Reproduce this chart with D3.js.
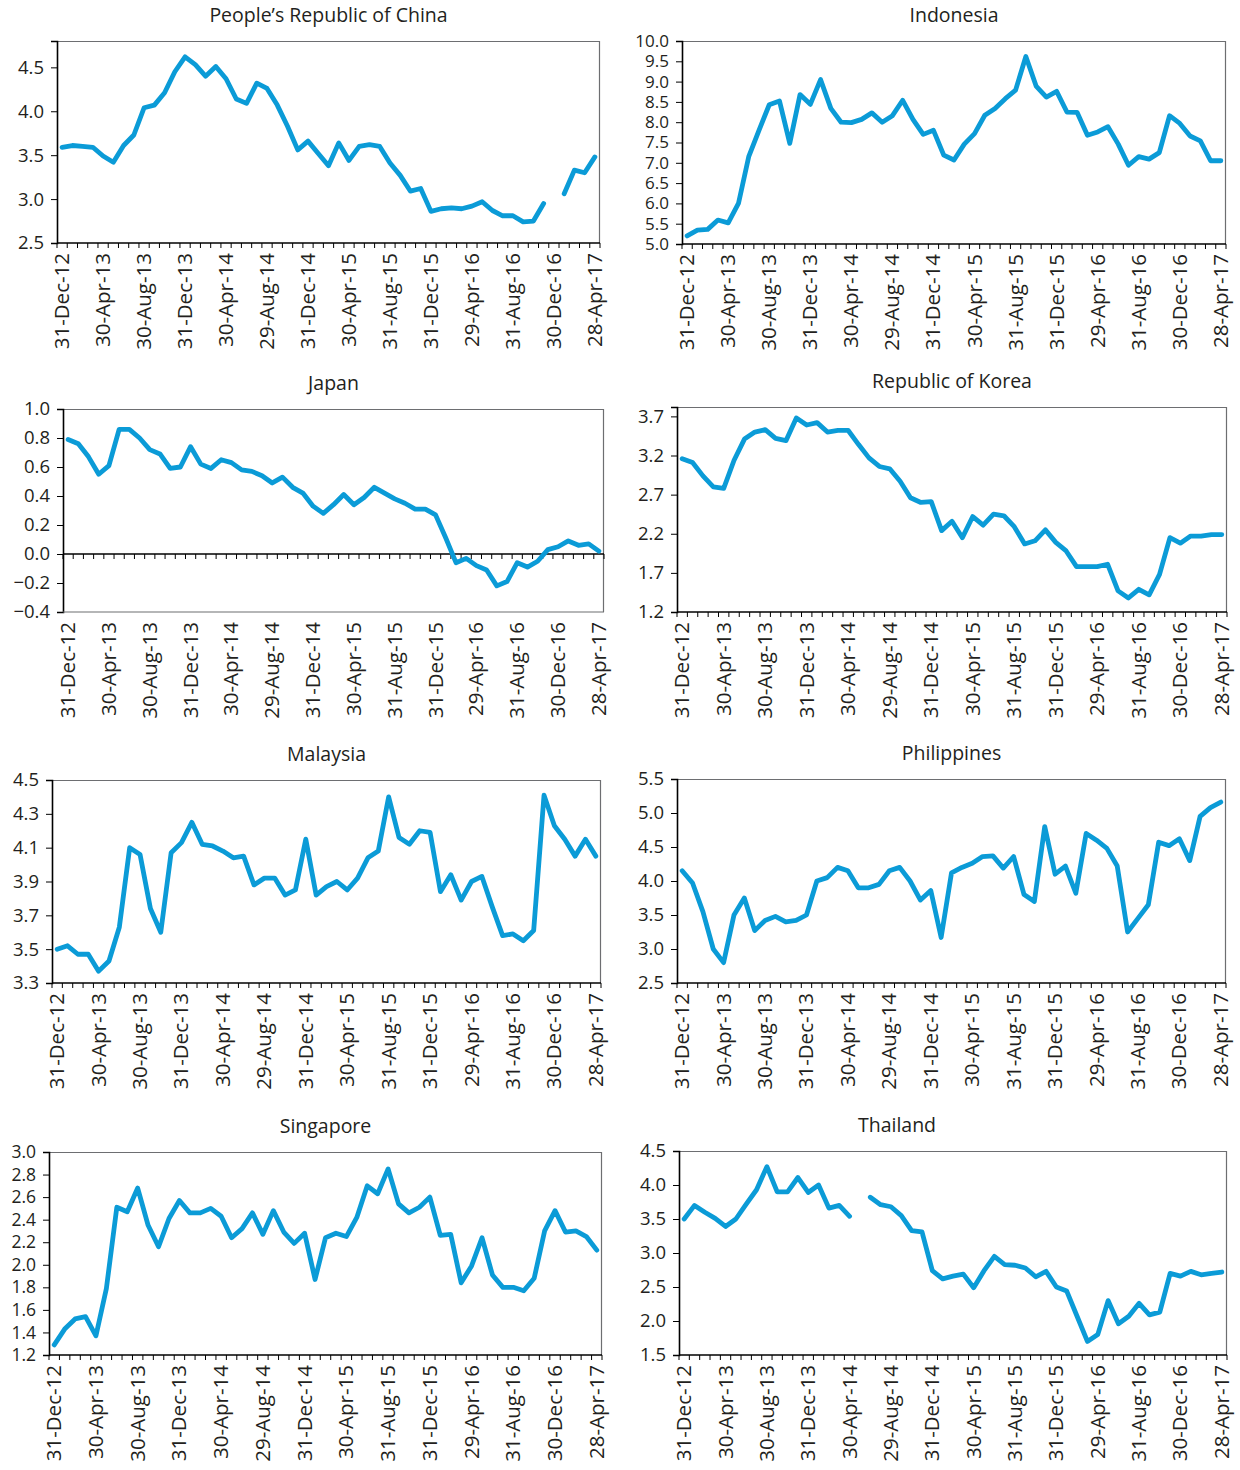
<!DOCTYPE html>
<html>
<head>
<meta charset="utf-8">
<script src="https://cdn.jsdelivr.net/npm/d3@7"></script>
<style>
  body { margin: 0; background: #fff; }
  text { font-family: "Open Sans", "Noto Sans", sans-serif; fill: #231f20; }
</style>
</head>
<body>
<svg width="1240" height="1470"></svg>
<script>
// tick labels on the category axis (every 4th month)
var dates = ["31-Dec-12", "30-Apr-13", "30-Aug-13", "31-Dec-13", "30-Apr-14", "29-Aug-14", "31-Dec-14",
  "30-Apr-15", "31-Aug-15", "31-Dec-15", "29-Apr-16", "31-Aug-16", "30-Dec-16", "28-Apr-17"];

// monthly series, Dec-2012 .. Apr-2017
var china = [3.59, 3.61, 3.60, 3.59, 3.49, 3.42, 3.61, 3.73, 4.04, 4.07, 4.21, 4.45, 4.62, 4.53, 4.40, 4.51, 4.37, 4.14,
  4.09, 4.32, 4.26, 4.07, 3.83, 3.56, 3.66, 3.52, 3.38, 3.64, 3.44, 3.60, 3.62, 3.60, 3.41, 3.27, 3.09, 3.12, 2.86,
  2.89, 2.90, 2.89, 2.92, 2.97, 2.87, 2.81, 2.81, 2.74, 2.75, 2.95, null, 3.06, 3.33, 3.30, 3.48];
var indonesia = [5.20, 5.34, 5.36, 5.59, 5.52, 6.00, 7.15, 7.80, 8.43, 8.52, 7.48, 8.68, 8.44, 9.05, 8.34, 8.00, 7.99,
  8.07, 8.23, 8.00, 8.16, 8.54, 8.07, 7.70, 7.80, 7.19, 7.07, 7.46, 7.72, 8.17, 8.34, 8.58, 8.79, 9.62, 8.89, 8.62,
  8.76, 8.25, 8.24, 7.68, 7.76, 7.89, 7.46, 6.94, 7.15, 7.09, 7.25, 8.16, 7.97, 7.66, 7.54, 7.05, 7.05];
var japan = [0.79, 0.76, 0.67, 0.55, 0.61, 0.86, 0.86, 0.80, 0.72, 0.69, 0.59, 0.60, 0.74, 0.62, 0.59, 0.65, 0.63, 0.58,
  0.57, 0.54, 0.49, 0.53, 0.46, 0.42, 0.33, 0.28, 0.34, 0.41, 0.34, 0.39, 0.46, 0.42, 0.38, 0.35, 0.31, 0.31, 0.27,
  0.11, -0.06, -0.03, -0.08, -0.11, -0.22, -0.19, -0.06, -0.09, -0.05, 0.03, 0.05, 0.09, 0.06, 0.07, 0.02];
var korea = [3.16, 3.11, 2.94, 2.80, 2.78, 3.14, 3.41, 3.50, 3.53, 3.42, 3.39, 3.68, 3.59, 3.62, 3.50, 3.52, 3.52, 3.34,
  3.17, 3.06, 3.03, 2.87, 2.66, 2.60, 2.61, 2.24, 2.36, 2.15, 2.42, 2.31, 2.45, 2.43, 2.29, 2.07, 2.11, 2.25, 2.09,
  1.98, 1.78, 1.78, 1.78, 1.81, 1.47, 1.38, 1.49, 1.42, 1.68, 2.15, 2.08, 2.17, 2.17, 2.19, 2.19];
var malaysia = [3.50, 3.52, 3.47, 3.47, 3.37, 3.43, 3.63, 4.10, 4.06, 3.74, 3.60, 4.07, 4.13, 4.25, 4.12, 4.11, 4.08,
  4.04, 4.05, 3.88, 3.92, 3.92, 3.82, 3.85, 4.15, 3.82, 3.87, 3.90, 3.85, 3.92, 4.04, 4.08, 4.40, 4.16, 4.12, 4.20,
  4.19, 3.84, 3.94, 3.79, 3.90, 3.93, 3.75, 3.58, 3.59, 3.55, 3.61, 4.41, 4.23, 4.15, 4.05, 4.15, 4.05];
var philippines = [4.15, 3.97, 3.55, 3.00, 2.80, 3.50, 3.75, 3.27, 3.42, 3.48, 3.40, 3.42, 3.50, 4.00, 4.05, 4.20, 4.15,
  3.90, 3.90, 3.95, 4.15, 4.20, 4.00, 3.72, 3.86, 3.17, 4.12, 4.20, 4.26, 4.36, 4.37, 4.19, 4.36, 3.80, 3.70, 4.80,
  4.10, 4.22, 3.82, 4.70, 4.60, 4.48, 4.22, 3.25, 3.45, 3.65, 4.57, 4.52, 4.62, 4.30, 4.95, 5.08, 5.16];
var singapore = [1.29, 1.43, 1.52, 1.54, 1.37, 1.79, 2.51, 2.47, 2.68, 2.35, 2.16, 2.41, 2.57, 2.46, 2.46, 2.50, 2.43,
  2.24, 2.32, 2.46, 2.27, 2.48, 2.29, 2.19, 2.28, 1.87, 2.24, 2.28, 2.25, 2.42, 2.70, 2.63, 2.85, 2.54, 2.46, 2.51,
  2.60, 2.26, 2.27, 1.84, 1.99, 2.24, 1.91, 1.80, 1.80, 1.77, 1.88, 2.30, 2.48, 2.29, 2.30, 2.25, 2.13];
var thailand = [3.50, 3.70, 3.60, 3.51, 3.39, 3.50, 3.72, 3.93, 4.27, 3.90, 3.90, 4.11, 3.89, 4.00, 3.66, 3.70, 3.54,
  null, 3.82, 3.71, 3.68, 3.55, 3.33, 3.31, 2.74, 2.62, 2.66, 2.69, 2.49, 2.74, 2.95, 2.83, 2.82, 2.78, 2.65, 2.73,
  2.50, 2.44, 2.07, 1.70, 1.80, 2.30, 1.96, 2.07, 2.26, 2.09, 2.13, 2.70, 2.66, 2.73, 2.68, 2.70, 2.72];

// y tick labels per panel
var chinaTicks = [2.5, 3.0, 3.5, 4.0, 4.5];
var indonesiaTicks = [5.0, 5.5, 6.0, 6.5, 7.0, 7.5, 8.0, 8.5, 9.0, 9.5, 10.0];
var japanTicks = [-0.4, -0.2, 0.0, 0.2, 0.4, 0.6, 0.8, 1.0];
var koreaTicks = [1.2, 1.7, 2.2, 2.7, 3.2, 3.7];
var malaysiaTicks = [3.3, 3.5, 3.7, 3.9, 4.1, 4.3, 4.5];
var philippinesTicks = [2.5, 3.0, 3.5, 4.0, 4.5, 5.0, 5.5];
var singaporeTicks = [1.2, 1.4, 1.6, 1.8, 2.0, 2.2, 2.4, 2.6, 2.8, 3.0];
var thailandTicks = [1.5, 2.0, 2.5, 3.0, 3.5, 4.0, 4.5];

var panels = [
  { title: "People\u2019s Republic of China", values: china, ticks: chinaTicks, top: 4.8, box: [57, 41, 600, 243] },
  { title: "Indonesia", values: indonesia, ticks: indonesiaTicks, box: [682, 41, 1226, 244], tickFont: 17 },
  { title: "Japan", values: japan, ticks: japanTicks, box: [63, 409, 604, 612], zero: true },
  { title: "Republic of Korea", values: korea, ticks: koreaTicks, top: 3.82, box: [677, 407, 1227, 612] },
  { title: "Malaysia", values: malaysia, ticks: malaysiaTicks, box: [52, 780, 601, 983] },
  { title: "Philippines", values: philippines, ticks: philippinesTicks, box: [677, 779, 1226, 983] },
  { title: "Singapore", values: singapore, ticks: singaporeTicks, box: [49, 1152, 602, 1355], tickFont: 17.5 },
  { title: "Thailand", values: thailand, ticks: thailandTicks, box: [679, 1151, 1227, 1355], titleDx: -56 }
];

var svg = d3.select("svg");
var fmt = d3.format(".1f");
var months = d3.range(china.length);

panels.forEach(function (p) {
  var left = p.box[0], top = p.box[1], width = p.box[2] - p.box[0], height = p.box[3] - p.box[1];
  var g = svg.append("g").attr("transform", "translate(" + left + "," + top + ")");

  var x = d3.scaleBand().domain(months).range([0, width]);
  var cx = function (i) { return x(i) + x.bandwidth() / 2; };
  var ymax = p.top || p.ticks[p.ticks.length - 1];
  var y = d3.scaleLinear().domain([p.ticks[0], ymax]).range([height, 0]);

  // frame: top and right edges
  g.append("path")
    .attr("d", "M0,0.5H" + (width - 0.5) + "V" + height)
    .attr("fill", "none").attr("stroke", "#6d6e71").attr("stroke-width", 1.2);

  // y axis
  var yAxis = d3.axisLeft(y).tickValues(p.ticks).tickFormat(fmt).tickSize(6).tickPadding(7);
  var ya = g.append("g").call(yAxis);
  ya.select(".domain").attr("stroke", "#000").attr("stroke-width", 1.6);
  ya.selectAll(".tick line").attr("stroke", "#000");
  ya.selectAll("text").attr("font-size", p.tickFont || 18.5)
    .style("font-family", "'Open Sans', sans-serif").attr("fill", "#231f20");

  // category axis (at zero for Japan)
  var axisY = p.zero ? y(0) : height;
  if (p.zero) {
    g.append("line").attr("x1", 0).attr("x2", width).attr("y1", height).attr("y2", height)
      .attr("stroke", "#6d6e71").attr("stroke-width", 1.2);
  }
  var ax = g.append("g").attr("transform", "translate(0," + axisY + ")");
  ax.append("line").attr("x1", 0).attr("x2", width).attr("stroke", "#000").attr("stroke-width", 1.6);
  ax.selectAll(".mt").data(d3.range(months.length + 1)).enter().append("line")
    .attr("class", "mt")
    .attr("x1", function (i) { return i < months.length ? x(i) : width; })
    .attr("x2", function (i) { return i < months.length ? x(i) : width; })
    .attr("y1", 0).attr("y2", 5)
    .attr("stroke", "#000").attr("stroke-width", 1);

  // rotated date labels at every 4th month
  g.selectAll(".dl").data(dates).enter().append("text")
    .attr("class", "dl")
    .attr("transform", function (d, k) { return "translate(" + (cx(k * 4) + 7) + "," + (height + 10) + ") rotate(-90)"; })
    .attr("text-anchor", "end")
    .attr("font-size", 20.5)
    .text(function (d) { return d; });

  // title
  g.append("text")
    .attr("x", width / 2 + (p.titleDx || 0)).attr("y", -19)
    .attr("text-anchor", "middle")
    .attr("font-size", 19.5)
    .text(p.title);

  // series line
  var line = d3.line()
    .defined(function (d) { return d != null; })
    .x(function (d, i) { return cx(i); })
    .y(function (d) { return y(d); });
  g.append("path")
    .datum(p.values)
    .attr("d", line)
    .attr("fill", "none")
    .attr("stroke", "#0b9bd7")
    .attr("stroke-width", 4.8)
    .attr("stroke-linejoin", "round")
    .attr("stroke-linecap", "round");
});
</script>
</body>
</html>
